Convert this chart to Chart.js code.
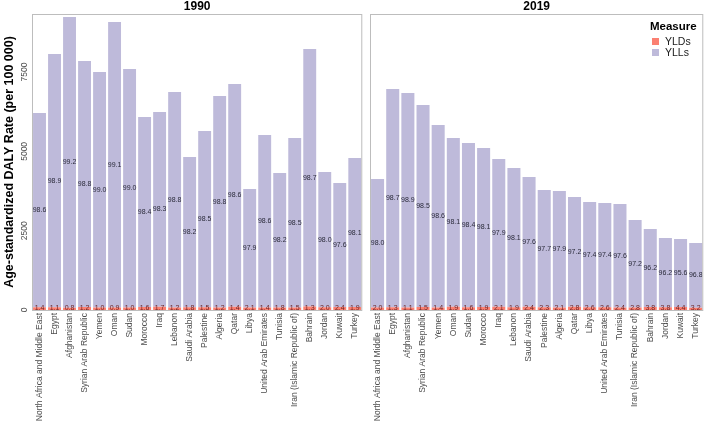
<!DOCTYPE html>
<html>
<head>
<meta charset="utf-8">
<script src="https://cdn.jsdelivr.net/npm/chart.js@4"></script>
<style>
html,body{margin:0;padding:0;background:#fff;}
#wrap{position:relative;width:709px;height:423px;overflow:hidden;}
canvas{position:absolute;top:0;}
</style>
</head>
<body>
<div id="wrap">
<canvas id="c1" width="368" height="423" style="left:0;width:368px;height:423px"></canvas>
<canvas id="c2" width="341" height="423" style="left:368px;width:341px;height:423px"></canvas>
</div>
<script>
const categories1990 = ["North Africa and Middle East","Egypt","Afghanistan","Syrian Arab Republic","Yemen","Oman","Sudan","Morocco","Iraq","Lebanon","Saudi Arabia","Palestine","Algeria","Qatar","Libya","United Arab Emirates","Tunisia","Iran (Islamic Republic of)","Bahrain","Jordan","Kuwait","Turkey"];
const total1990 = [6209,8068,9234,7847,7501,9077,7595,6083,6240,6870,4822,5641,6744,7123,3813,5515,4318,5421,8226,4349,4003,4790];
const yll1990 = [98.6,98.9,99.2,98.8,99.0,99.1,99.0,98.4,98.3,98.8,98.2,98.5,98.8,98.6,97.9,98.6,98.2,98.5,98.7,98.0,97.6,98.1];
const yld1990 = [1.4,1.1,0.8,1.2,1.0,0.9,1.0,1.6,1.7,1.2,1.8,1.5,1.2,1.4,2.1,1.4,1.8,1.5,1.3,2.0,2.4,1.9];

const categories2019 = ["North Africa and Middle East","Egypt","Afghanistan","Syrian Arab Republic","Yemen","Oman","Sudan","Morocco","Iraq","Lebanon","Saudi Arabia","Palestine","Algeria","Qatar","Libya","United Arab Emirates","Tunisia","Iran (Islamic Republic of)","Bahrain","Jordan","Kuwait","Turkey"];
const total2019 = [4129,6965,6839,6461,5830,5421,5263,5106,4759,4475,4192,3782,3750,3561,3404,3372,3341,2836,2553,2269,2238,2112];
const yll2019 = [98.0,98.7,98.9,98.5,98.6,98.1,98.4,98.1,97.9,98.1,97.6,97.7,97.9,97.2,97.4,97.4,97.6,97.2,96.2,96.2,95.6,96.8];
const yld2019 = [2.0,1.3,1.1,1.5,1.4,1.9,1.6,1.9,2.1,1.9,2.4,2.3,2.1,2.8,2.6,2.6,2.4,2.8,3.8,3.8,4.4,3.2];

const yTicks = [0,2500,5000,7500];
const yMax = 9330;

const FONT = "'Liberation Sans', Arial, Helvetica, sans-serif";
const COL_YLD = '#FB8072';
const COL_YLL = '#BEBADA';

function makeDatasets(total, yll, yld){
  return [
    {label:'YLDs', data: total.map((t,i)=>t*yld[i]/100), pct: yld, backgroundColor: COL_YLD, barPercentage:0.86, categoryPercentage:1, labelColor:'#6b1f1f'},
    {label:'YLLs', data: total.map((t,i)=>t*yll[i]/100), pct: yll, backgroundColor: COL_YLL, barPercentage:0.86, categoryPercentage:1, labelColor:'#2a2a3a'}
  ];
}

const decoPlugin = {
  id:'deco',
  afterDatasetsDraw(chart, args, opts){
    const ctx = chart.ctx;
    const ca = chart.chartArea;
    ctx.save();
    // value labels
    ctx.font = '7px ' + FONT;
    ctx.textAlign = 'center';
    ctx.textBaseline = 'middle';
    chart.data.datasets.forEach((ds, di)=>{
      const meta = chart.getDatasetMeta(di);
      ctx.fillStyle = ds.labelColor;
      meta.data.forEach((el, i)=>{
        const cy = (el.y + el.base)/2;
        ctx.fillText(ds.pct[i].toFixed(1), el.x, di===0 ? cy-0.5 : cy);
      });
    });
    // panel border
    ctx.strokeStyle = '#bdbdbd';
    ctx.lineWidth = 1;
    ctx.strokeRect(ca.left+0.5, ca.top+0.5, ca.right-ca.left-1, ca.bottom-ca.top);
    // facet title
    ctx.fillStyle = '#000';
    ctx.font = 'bold 12px ' + FONT;
    ctx.textAlign = 'center';
    ctx.textBaseline = 'middle';
    ctx.fillText(opts.title, (ca.left+ca.right)/2, 7);
    if (opts.yaxis){
      const ys = chart.scales.y;
      ctx.fillStyle = '#4d4d4d';
      ctx.font = '8.5px ' + FONT;
      yTicks.forEach(v=>{
        const py = ys.getPixelForValue(v);
        ctx.save();
        ctx.translate(25, py);
        ctx.rotate(-Math.PI/2);
        ctx.fillText(String(v), 0, 0);
        ctx.restore();
      });
      ctx.save();
      ctx.fillStyle = '#000';
      ctx.font = 'bold 12.5px ' + FONT;
      ctx.translate(10, (ca.top+ca.bottom)/2);
      ctx.rotate(-Math.PI/2);
      ctx.fillText('Age-standardized DALY Rate (per 100 000)', 0, 0);
      ctx.restore();
    }
    if (opts.legend){
      ctx.textAlign = 'left';
      ctx.fillStyle = '#000';
      ctx.font = 'bold 11.5px ' + FONT;
      ctx.fillText('Measure', 282, 27);
      ctx.font = '10.5px ' + FONT;
      chart.data.datasets.forEach((ds, di)=>{
        const yy = 38 + di*11;
        ctx.fillStyle = ds.backgroundColor;
        ctx.fillRect(284, yy, 7, 7);
        ctx.fillStyle = '#1a1a1a';
        ctx.fillText(ds.label, 297, yy+4);
      });
    }
    ctx.restore();
  }
};

function makeChart(id, cats, total, yll, yld, title, isFirst){
  return new Chart(document.getElementById(id), {
    type:'bar',
    data:{ labels: cats, datasets: makeDatasets(total, yll, yld) },
    options:{
      responsive:false,
      animation:false,
      devicePixelRatio: window.devicePixelRatio || 1,
      layout:{ padding: isFirst ? {left:32, right:1, top:14, bottom:0} : {left:2, right:4, top:14, bottom:0} },
      plugins:{ legend:{display:false}, tooltip:{enabled:false},
        deco:{ title: title, yaxis: isFirst, legend: !isFirst } },
      scales:{
        x:{ stacked:true, offset:true,
            grid:{display:false, drawTicks:false}, border:{display:false},
            ticks:{ autoSkip:false, minRotation:90, maxRotation:90, padding:3, color:'#4d4d4d', font:{family:FONT, size:8.5} },
            afterFit(s){ s.height = 113; } },
        y:{ stacked:true, display:false, min:0, max:yMax }
      }
    },
    plugins:[decoPlugin]
  });
}

makeChart('c1', categories1990, total1990, yll1990, yld1990, '1990', true);
makeChart('c2', categories2019, total2019, yll2019, yld2019, '2019', false);
</script>
</body>
</html>
